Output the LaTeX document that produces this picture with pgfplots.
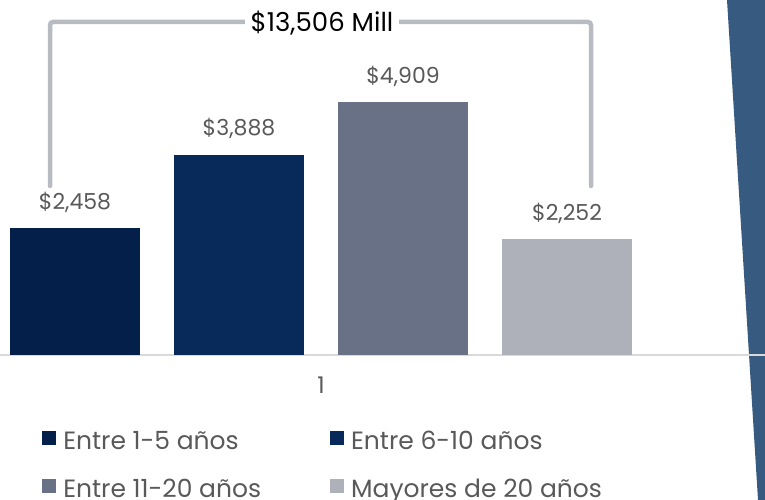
\documentclass[border=0pt]{standalone}
\usepackage{pgfplots}
\pgfplotsset{compat=1.18}
\usepackage{fontspec}
\setmainfont{Poppins}
\definecolor{cA}{HTML}{04204A}
\definecolor{cB}{HTML}{072A5A}
\definecolor{cC}{HTML}{697186}
\definecolor{cD}{HTML}{AEB1B9}
\definecolor{side}{HTML}{375A80}
\definecolor{brk}{HTML}{B8BCC2}
\definecolor{lbl}{HTML}{595959}
\pgfplotsset{sq/.style={legend image code/.code={\fill[##1] (0pt,-4pt) rectangle (14pt,10pt);}}}
\begin{document}
\begin{tikzpicture}[x=1pt,y=1pt]
\fill[side] (727,355) -- (765,355) -- (765,-145) -- (758,-145) -- cycle;
\begin{axis}[scale only axis,
  width=765pt, height=355pt, xmin=0, xmax=765, ymin=0, ymax=6888,
  ybar=34pt, bar width=130pt,
  axis x line*=bottom, axis y line=none,
  x axis line style={draw=black!15, line width=1.5pt},
  xtick={321}, xticklabels={\mbox{\fontsize{23}{25}\selectfont 1}}, major tick length=0pt,
  xticklabel style={text=lbl, yshift=-18pt},
  nodes near coords={\$\pgfmathprintnumber{\pgfplotspointmeta}},
  /pgf/number format/.cd, 1000 sep={,}, assume math mode=true, /pgfplots/.cd,
  every node near coord/.append style={font=\fontsize{22}{24}\selectfont, text=lbl, yshift=12pt},
  legend style={at={(axis description cs:0.055,-0.31)}, anchor=west, draw=none, fill=none,
    inner sep=0pt, row sep=24pt, legend columns=2,
    font=\fontsize{25}{27}\selectfont, text=lbl,
    /tikz/every odd column/.append style={column sep=5pt},
    /tikz/every even column/.append style={column sep=67pt}},
  legend cell align=left]
\addplot[fill=cA, draw=none, sq] coordinates {(321,2458)};\addlegendentry{Entre 1-5 años}
\addplot[fill=cB, draw=none, sq] coordinates {(321,3888)};\addlegendentry{Entre 6-10 años}
\addplot[fill=cC, draw=none, sq] coordinates {(321,4909)};\addlegendentry{Entre 11-20 años}
\addplot[fill=cD, draw=none, sq] coordinates {(321,2252)};\addlegendentry{Mayores de 20 años}
\end{axis}
\draw[brk, line width=4.5pt, line cap=round, rounded corners=3pt] (50,169) -- (50,333) -- (591,333) -- (591,169);
\node[fill=white, inner xsep=6pt, font=\fontsize{26}{28}\selectfont] at (322,332) {\$13,506 Mill};
\pgfresetboundingbox
\useasboundingbox (0,-145) rectangle (765,355);
\end{tikzpicture}
\end{document}
